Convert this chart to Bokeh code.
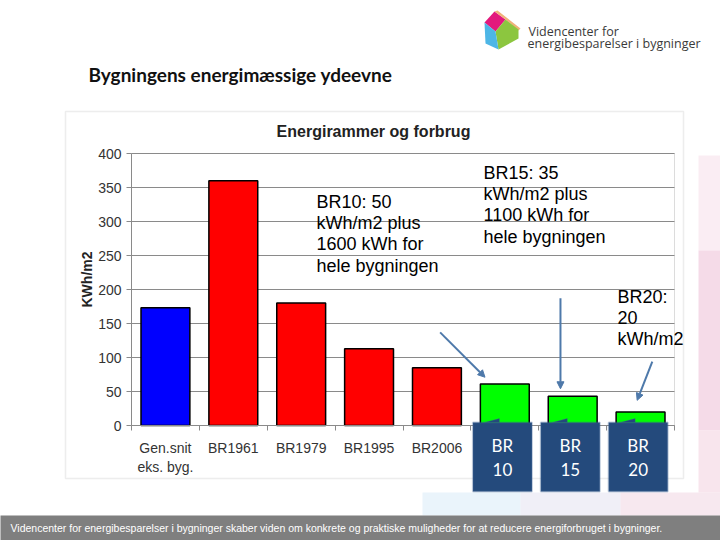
import math
from bokeh.plotting import figure
from bokeh.models import (Range1d, FixedTicker, Label, BoxAnnotation, PolyAnnotation,
                          Arrow, NormalHead, ColumnDataSource, Grid)
from bokeh.embed import file_html
from bokeh.resources import INLINE

# ---------------- data ----------------
categories = ["Gen.snit\neks. byg.", "BR1961", "BR1979", "BR1995", "BR2006",
              "BR2010", "BR2015", "BR2020"]
values = [173, 360, 180, 113, 85, 61, 43, 20]
groups = ["gennemsnit", "historisk", "historisk", "historisk", "historisk",
          "ny", "ny", "ny"]
y_ticks = [0, 50, 100, 150, 200, 250, 300, 350, 400]
box_labels = ["BR\n10", "BR\n15", "BR\n20"]
box_categories = [5, 6, 7]
notes = ["BR10: 50\nkWh/m2 plus\n1600 kWh for\nhele bygningen",
         "BR15: 35\nkWh/m2 plus\n1100 kWh for\nhele bygningen",
         "BR20:\n20\nkWh/m2"]
chart_title = "Energirammer og forbrug"
y_label = "KWh/m2"
slide_title = "Bygningens energimæssige ydeevne"
logo_lines = ["Videncenter for", "energibesparelser i bygninger"]
footer = ("Videncenter for energibesparelser i bygninger skaber viden om konkrete og "
          "praktiske muligheder for at reducere energiforbruget i bygninger.")

# ---------------- styles / layout ----------------
group_colors = {"gennemsnit": "#0000ff", "historisk": "#ff0000", "ny": "#00ff00"}
ARIAL = "Liberation Sans"
W, H = 720, 540
# plot area of the chart in page pixels
FL, FT, FR, FB = 131, 153, 674, 425
YMAX = 400
NCAT = len(categories)
PX_X = (FR - FL) / NCAT
PX_Y = (FB - FT) / YMAX


def dx(X):
    return (X - FL) / PX_X


def dy(Y):
    return (FB - Y) / PX_Y


p = figure(width=W, height=H, output_backend="svg", toolbar_location=None,
           x_range=Range1d(dx(0), dx(W)), y_range=Range1d(dy(H), dy(0)),
           min_border=0)
p.background_fill_color = "white"
p.border_fill_color = "white"
p.outline_line_color = None
p.xgrid.visible = False
p.ygrid.visible = False

# slide decorations (pastel background pieces)
for l, r, t, b, c, a in [(422, 520, 492, 515, "#dcecf8", 0.6),
                         (520, 620, 492, 515, "#e6e4f2", 0.6),
                         (620, 720, 492, 515, "#f2d9e4", 0.6),
                         (698, 720, 155, 250, "#f9e8f0", 0.8),
                         (698, 720, 250, 430, "#f3d2e2", 0.8),
                         (698, 720, 430, 492, "#f6dfe9", 0.8)]:
    p.add_layout(BoxAnnotation(left=dx(l), right=dx(r), top=dy(t), bottom=dy(b),
                               fill_color=c, fill_alpha=a, line_color=None,
                               level="underlay"))

# chart frame box
p.add_layout(BoxAnnotation(left=dx(65), right=dx(683), top=dy(111), bottom=dy(478),
                           fill_color="white", fill_alpha=1.0,
                           line_color="#c4c4c4", line_width=1.5, level="underlay"))

# grid lines only across the plot area
grid = Grid(dimension=1, ticker=FixedTicker(ticks=y_ticks),
            grid_line_color="#8a8a8a", grid_line_width=1, level="underlay")
if "cross_bounds" in Grid.properties():
    grid.cross_bounds = (0, NCAT)
    grid.bounds = (0, YMAX)
    p.add_layout(grid)
else:
    p.segment(x0=[0] * len(y_ticks), x1=[NCAT] * len(y_ticks), y0=y_ticks,
              y1=y_ticks, line_color="#8a8a8a", line_width=1, level="underlay")

# plot-area border
p.add_layout(BoxAnnotation(left=0, right=NCAT, bottom=0, top=YMAX,
                           fill_alpha=0, line_color="#8a8a8a", line_width=1,
                           level="underlay"))

# bars
centers = [i + 0.5 for i in range(NCAT)]
src = ColumnDataSource(dict(x=centers, top=values,
                            color=[group_colors[g] for g in groups]))
p.vbar(x="x", top="top", width=0.72, bottom=0, source=src,
       fill_color="color", line_color="black", line_width=1.5)

# axes fixed at the chart origin
p.yaxis.fixed_location = 0
p.yaxis.bounds = (0, YMAX)
p.yaxis.ticker = FixedTicker(ticks=y_ticks)
p.yaxis.axis_line_color = "#8a8a8a"
p.yaxis.major_tick_line_color = "#8a8a8a"
p.yaxis.major_tick_out = 5
p.yaxis.major_tick_in = 0
p.yaxis.minor_tick_line_color = None
p.yaxis.major_label_text_font = ARIAL
p.yaxis.major_label_text_font_size = "14px"
p.yaxis.major_label_text_color = "#333333"
p.yaxis.major_label_standoff = 5

p.xaxis.fixed_location = 0
p.xaxis.bounds = (0, NCAT)
p.xaxis.ticker = FixedTicker(ticks=centers, minor_ticks=list(range(NCAT + 1)))
p.xaxis.major_label_overrides = {c: n for c, n in zip(centers, categories)}
p.xaxis.axis_line_color = "#8a8a8a"
p.xaxis.major_tick_line_color = None
p.xaxis.major_tick_out = 0
p.xaxis.major_tick_in = 0
p.xaxis.minor_tick_line_color = "#8a8a8a"
p.xaxis.minor_tick_out = 5
p.xaxis.minor_tick_in = 0
p.xaxis.major_label_text_font = ARIAL
p.xaxis.major_label_text_font_size = "14px"
p.xaxis.major_label_text_color = "#333333"
p.xaxis.major_label_standoff = 9


def lab(X, Y, text, **kw):
    d = dict(x=dx(X), y=dy(Y), text=text)
    d.update(kw)
    p.add_layout(Label(**d))


# chart title & y label
lab(373, 131, chart_title, text_font=ARIAL, text_font_size="16px",
    text_font_style="bold", text_color="#222222", text_align="center",
    text_baseline="middle")
lab(86, 279, y_label, text_font=ARIAL, text_font_size="14px",
    text_font_style="bold", text_color="#222222", text_align="center",
    text_baseline="middle", angle=math.pi / 2)

# notes
for (X, Y), t in zip([(316, 191), (483, 162), (617, 286)], notes):
    lab(X, Y, t, text_font=ARIAL, text_font_size="18px", text_color="black",
        text_align="left", text_baseline="top", text_line_height=1.07)

# arrows (data coordinates)
arrows = [((4.547, 137), (5.208, 71)), ((6.32, 187), (6.32, 54)),
          ((7.673, 94), (7.45, 37))]
for (x0, y0), (x1, y1) in arrows:
    p.add_layout(Arrow(x_start=x0, y_start=y0, x_end=x1, y_end=y1,
                       line_color="#4e79aa", line_width=2,
                       end=NormalHead(size=7, fill_color="#4e79aa",
                                      line_color="#4e79aa")))

# blue boxes
for i, t in zip(box_categories, box_labels):
    p.add_layout(BoxAnnotation(left=i + 0.03, right=i + 0.9, top=dy(422),
                               bottom=dy(491), fill_color="#244a7c", fill_alpha=1.0,
                               line_color="#3f6394", line_width=2, level="overlay"))
    p.add_layout(PolyAnnotation(xs=[i + 0.2, i + 0.42, i + 0.42],
                                ys=[dy(422), dy(418), dy(422)], fill_color="#244a7c",
                                fill_alpha=1.0, line_color="#3f6394",
                                line_width=1, level="overlay"))
    p.add_layout(Label(x=i + 0.465, y=dy(457), text=t,
                       text_font="Lato", text_font_size="17px",
                       text_font_style="normal",
                       text_color="white", text_align="center",
                       text_baseline="middle", text_line_height=1.1,
                       level="overlay"))

# slide title
lab(88, 74, slide_title, text_font="Lato", text_font_size="19px",
    text_font_style="bold", text_color="#111111", text_align="left",
    text_baseline="middle")

# logo
logo = [([484, 494, 505, 495], [22, 11, 19, 31], "#e2197c"),
        ([494, 497, 520, 518, 505], [11, 10, 28, 30, 19], "#f0b27a"),
        ([495, 505, 518, 518, 498], [31, 19, 29, 38, 49], "#8cc63f"),
        ([484, 495, 498, 485], [22, 31, 49, 43], "#4db6e6")]
for xs, ys, c in logo:
    p.add_layout(PolyAnnotation(xs=[dx(v) for v in xs], ys=[dy(v) for v in ys],
                                fill_color=c, fill_alpha=1.0, line_color=None))
lab(528, 31, logo_lines[0], text_font="Open Sans", text_font_size="12.5px",
    text_color="#3a3a3a", text_align="left", text_baseline="middle")
lab(527, 43, logo_lines[1], text_font="Open Sans", text_font_size="12.5px",
    text_color="#3a3a3a", text_align="left", text_baseline="middle")

# footer
p.add_layout(BoxAnnotation(left=dx(-20), right=dx(740), top=dy(515), bottom=dy(560),
                           fill_color="#7f7f7f", fill_alpha=1.0, line_color=None,
                           level="overlay"))
lab(10, 527, footer, text_font=ARIAL, text_font_size="10.5px",
    text_color="white", text_align="left", text_baseline="middle", level="overlay")

open("out.html", "w").write(file_html(p, INLINE))
